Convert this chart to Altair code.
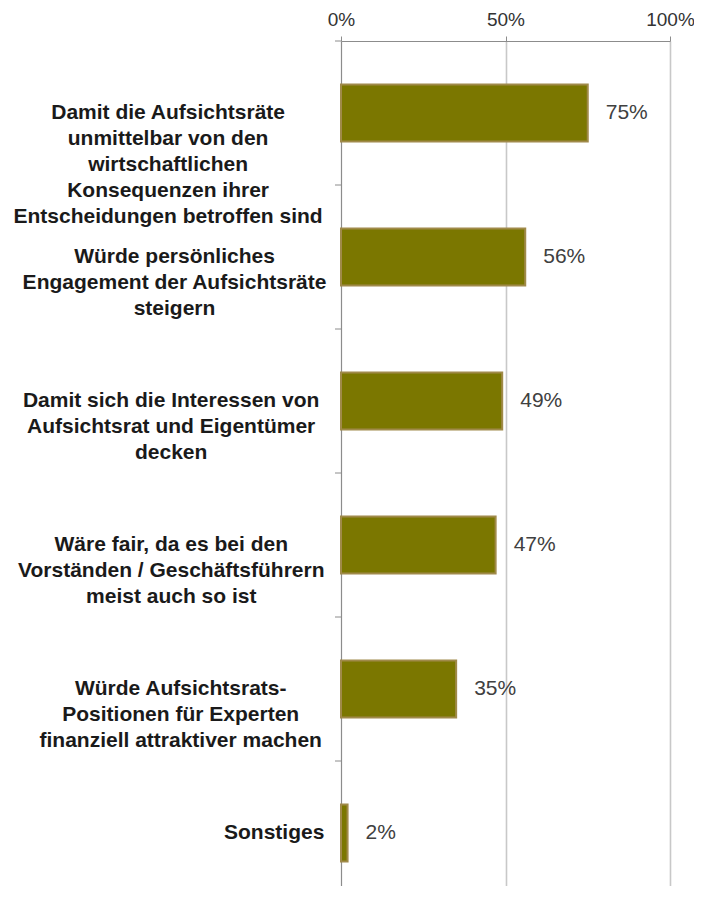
import altair as alt
import pandas as pd

categories = [
    "Damit die Aufsichtsräte|unmittelbar von den|wirtschaftlichen|Konsequenzen ihrer|Entscheidungen betroffen sind",
    "Würde persönliches|Engagement der Aufsichtsräte|steigern",
    "Damit  sich die Interessen von|Aufsichtsrat und Eigentümer|decken",
    "Wäre fair, da es bei den|Vorständen / Geschäftsführern|meist auch so ist",
    "Würde Aufsichtsrats-|Positionen für Experten|finanziell attraktiver machen",
    "Sonstiges",
]
values = [75, 56, 49, 47, 35, 2]
x_ticks = [0, 50, 100]

df = pd.DataFrame({"cat": categories, "val": values})
df["lab"] = [f"{v}%" for v in values]

# estimated half-width of the widest line, so each label block ends near the axis
rx = "regexp('[iltfrjI ,.:/-]','g')"
widths = []
for i in range(5):
    L = f"(split(datum.value,'|')[{i}] || '')"
    widths.append(f"(0.31*length({L}) + 0.30*length(replace({L},{rx},'')))")
pad_expr = f"16 + 21*max({','.join(widths)})/2"

y_scale = alt.Scale(domain=categories, paddingInner=0, paddingOuter=0, range=[0, 864])
y_axis = alt.Axis(
    title=None,
    grid=False,
    domain=False,
    ticks=False,
    labelExpr="split(datum.label, '|')",
    labelFont="Liberation Sans",
    labelFontWeight="bold",
    labelFontSize=21,
    labelColor="#1a1a1a",
    labelAlign="center",
    labelBaseline="middle",
    labelLineHeight=26,
    labelLimit=0,
    labelPadding=alt.ExprRef(expr=pad_expr),
)
y = alt.Y("cat:N", sort=categories, scale=y_scale, axis=y_axis)
y_edge = alt.Y("cat:N", sort=categories, scale=y_scale, axis=y_axis, bandPosition=0)

x = alt.X(
    "val:Q",
    scale=alt.Scale(domain=[0, 100], nice=False),
    axis=alt.Axis(
        title=None,
        orient="top",
        values=x_ticks,
        labelExpr="datum.value + '%'",
        labelFlush=False,
        labelBaseline="alphabetic",
        grid=True,
        gridColor={"condition": {"test": "datum.value === 0", "value": "#8c8c8c"}, "value": "#c8c8c8"},
        gridWidth={"condition": {"test": "datum.value === 0", "value": 1.2}, "value": 1.6},
        domainColor="#8c8c8c",
        tickColor="#8c8c8c",
        tickSize=5,
        labelFont="Liberation Sans",
        labelFontSize=19,
        labelColor="#333333",
        labelPadding=10.5,
    ),
)

bars = alt.Chart(df).mark_bar(
    color="#7b7700", stroke="#a08a4a", strokeWidth=2, size=57
).encode(x=x, y=y)

text = alt.Chart(df).mark_text(
    align="left", baseline="middle", dx=18, fontSize=21,
    font="Liberation Sans", color="#404040"
).encode(x=x, y=y, text="lab:N")

# small tick marks on the category axis, between the bands
edge_ticks = alt.Chart(df).mark_rule(color="#8c8c8c", strokeWidth=1).encode(
    y=y_edge, x=alt.value(-6), x2=alt.value(0)
)

chart = (bars + text + edge_ticks).properties(
    width=329,
    height=845,
    padding={"left": 333, "top": 33, "right": 24, "bottom": 0},
    autosize=alt.AutoSizeParams(type="none"),
).configure_view(stroke=None)

chart.save("out.html", embed_options={"renderer": "svg", "actions": False})
